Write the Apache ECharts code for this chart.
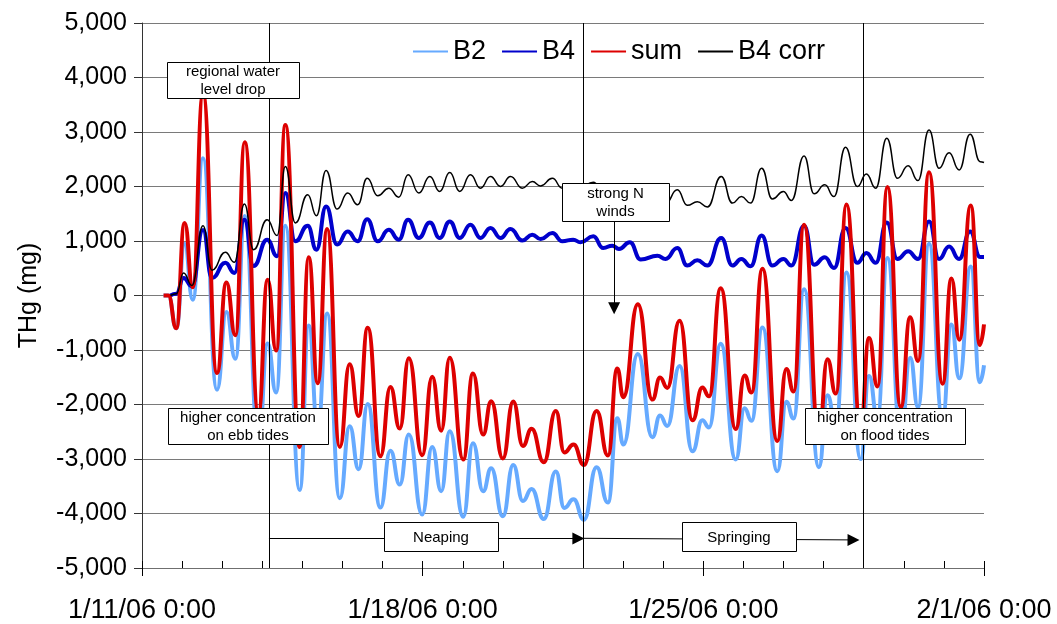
<!DOCTYPE html>
<html>
<head>
<meta charset="utf-8">
<script src="https://cdn.jsdelivr.net/npm/echarts@6/dist/echarts.min.js"></script>
<style>
  html, body { margin: 0; padding: 0; background: #fff; }
  #chart { width: 1057px; height: 624px; }
</style>
</head>
<body>
<div id="chart"></div>
<script>
// times are hours after 1/11/06 0:00 at each tide peak / trough
const tSum = [12.9, 15.8, 20.5, 25.5, 30.4, 36.5, 44.9, 50.5, 55.9, 61.5, 69.7, 75.2, 80.3, 85.8, 94.4, 99.8,
  105.2, 110.8, 118.4, 124.3, 129.7, 135.1, 142.7, 148.7, 154.3, 159.7, 167.7, 173.7, 179.1, 184.2, 192.3,
  198.1, 204.2, 209.0, 216.0, 222.2, 228.0, 233.2, 240.5, 247.7, 252.8, 258.3, 264.5, 272.1, 278.9, 284.5,
  288.1, 296.8, 305.5, 310.1, 314.4, 321.8, 329.5, 335.4, 339.4, 346.4, 355.4, 360.7, 364.8, 371.4, 380.3,
  385.7, 390.0, 396.3, 405.2, 410.3, 415.3, 421.7, 430.2, 435.2, 440.2, 446.2, 454.2, 459.8, 464.5, 471.1,
  479.2, 484.5, 489.2, 496.1, 501.5, 504];
const sumVals = [0, 0, -600, 1330, 150, 3700, -1420, 240, -730, 2810, -2150, 290, -1010, 3130, -2780, 700,
  -1610, 1220, -2780, -1260, -2210, -590, -2950, -1680, -2440, -1150, -2930, -1490, -2480, -1140, -3010,
  -1430, -2550, -1940, -2990, -1945, -2760, -2445, -3060, -2120, -2880, -2735, -3110, -2120, -2935, -1340,
  -1865, -160, -1910, -1505, -1695, -465, -2290, -1690, -1850, 135, -2450, -1470, -1780, 490, -2670,
  -1350, -1760, 1300, -2550, -1170, -1800, 1670, -2400, -780, -1670, 1990, -2050, -400, -1200, 2260,
  -1620, 310, -810, 1650, -910, -530];
const b2Vals = [0, 0, -600, 950, -80, 2520, -1730, -305, -1160, 1460, -2700, -880, -1780, 1280, -3570, -550,
  -2440, -330, -3720, -2400, -3190, -1990, -3890, -2850, -3470, -2550, -4020, -2780, -3590, -2490, -4060,
  -2710, -3590, -3170, -4050, -3110, -3770, -3550, -4100, -3230, -3900, -3740, -4115, -3150, -3800, -2250,
  -2735, -1075, -2600, -2200, -2395, -1295, -2860, -2290, -2420, -885, -3010, -2070, -2300, -585, -3225,
  -1950, -2255, 115, -3150, -1830, -2400, 420, -3000, -1475, -2250, 690, -2600, -1140, -2050, 950,
  -2250, -530, -1520, 530, -1590, -1280];

const tB4 = [17.0, 20.5, 24.9, 29.9, 36.5, 41.9, 49.9, 55.3, 61.3, 66.8, 74.9, 80.9, 85.8, 91.8, 99.2, 104.4,
  110.2, 116.8, 123.1, 129.1, 134.8, 141.1, 147.7, 153.7, 159.3, 165.7, 172.3, 178.2, 184.2, 190.2, 196.6,
  202.6, 208.6, 214.6, 220.6, 227.6, 233.6, 238.6, 245.6, 251.6, 258.1, 262.5, 270.1, 276.1, 281.5, 285.5,
  292.0, 298.5, 308.5, 313.4, 320.4, 326.4, 332.4, 338.4, 346.7, 353.4, 358.8, 364.3, 370.9, 377.3, 383.9,
  388.7, 396.3, 402.3, 408.7, 414.2, 421.1, 428.2, 433.6, 439.2, 445.8, 452.2, 458.6, 464.5, 471.1, 477.1,
  483.1, 489.1, 495.7, 501.7, 504];
const b4Vals = [0, 30, 320, 170, 1200, 320, 600, 415, 1390, 540, 1025, 720, 1880, 995, 1280, 840,
  1635, 935, 1175, 995, 1400, 995, 1205, 1025, 1390, 1055, 1340, 1055, 1360, 1055, 1300,
  1055, 1240, 1055, 1220, 1010, 1115, 1035, 1145, 995, 1025, 975, 1085, 870, 915, 855,
  975, 660, 730, 670, 870, 550, 645, 550, 1055, 550, 670, 535, 1100, 550, 670,
  550, 1280, 565, 700, 505, 1240, 600, 780, 600, 1340, 670, 810, 670, 1360, 670,
  900, 670, 1175, 705, 705];
const b4CorrVals = [0, 30, 415, 185, 1280, 465, 795, 610, 1680, 840, 1390, 1100, 2365, 1330, 1850, 1465,
  2295, 1585, 1880, 1665, 2150, 1830, 1970, 1805, 2215, 1880, 2185, 1910, 2255, 1910, 2215,
  1970, 2185, 2000, 2185, 1970, 2090, 2010, 2150, 1970, 2040, 1990, 2080, 1900, 1945, 1880,
  1990, 1700, 1760, 1690, 1940, 1655, 1720, 1625, 2185, 1695, 1815, 1695, 2335, 1770, 1910,
  1745, 2560, 1865, 2030, 1815, 2720, 2000, 2230, 1970, 2885, 2150, 2380, 2110, 3035, 2335,
  2620, 2305, 2960, 2455, 2440];

const xLabels = ['1/11/06 0:00', '1/18/06 0:00', '1/25/06 0:00', '2/1/06 0:00'];
const seriesNames = ['B2', 'B4', 'sum', 'B4 corr'];
const eventHours = [76, 264, 432];   // vertical marker lines

// annotation boxes (pixel layout)
const notes = [
  { text: 'regional water\nlevel drop', x: 167, y: 62, w: 132, h: 36 },
  { text: 'higher concentration\non ebb tides', x: 168, y: 408, w: 160, h: 36 },
  { text: 'higher concentration\non flood tides', x: 805, y: 408, w: 160, h: 36 },
  { text: 'strong N\nwinds', x: 562, y: 183, w: 107, h: 38 },
  { text: 'Neaping', x: 384, y: 522, w: 114, h: 29 },
  { text: 'Springing', x: 682, y: 522, w: 114, h: 29 }
];

const FONT = '"Liberation Sans", Arial, sans-serif';

function pairs(t, v) {
  return t.map((x, i) => [x, v[i]]);
}
function thousands(v) {
  const s = Math.abs(v).toString().replace(/\B(?=(\d{3})+(?!\d))/g, ',');
  return (v < 0 ? '-' : '') + s;
}

function lineSeries(name, t, v, color, width, z) {
  return {
    name: name, type: 'line', data: pairs(t, v),
    smooth: 0.5, smoothMonotone: 'x', symbol: 'none',
    lineStyle: { color: color, width: width },
    itemStyle: { color: color },
    z: z, silent: true
  };
}

const chart = echarts.init(document.getElementById('chart'), null, { renderer: 'canvas' });

const graphicEls = [];
notes.forEach(n => {
  graphicEls.push({
    type: 'rect', z: 100,
    shape: { x: n.x + 0.5, y: n.y + 0.5, width: n.w, height: n.h },
    style: { fill: '#fff', stroke: '#000', lineWidth: 1 }
  });
  graphicEls.push({
    type: 'text', z: 101,
    x: n.x + n.w / 2, y: n.y + n.h / 2 + 1,
    style: { text: n.text, font: '15px ' + FONT, fill: '#000', align: 'center', verticalAlign: 'middle', lineHeight: 18 }
  });
});

const sB2 = lineSeries('B2', tSum, b2Vals, '#66aaff', 4, 2);
const sB4 = lineSeries('B4', tB4, b4Vals, '#0000cc', 4, 3);
const sSum = lineSeries('sum', tSum, sumVals, '#dd0000', 4, 4);
const sCorr = lineSeries('B4 corr', tB4, b4CorrVals, '#000000', 1.5, 5);

sCorr.markLine = {
  silent: true, symbol: ['none', 'none'], animation: false,
  label: { show: false },
  lineStyle: { color: '#000', width: 1, type: 'solid' },
  data: eventHours.map(h => ({ xAxis: h }))
};
sSum.markLine = {
  silent: true, symbol: ['none', 'triangle'], symbolSize: 12, animation: false,
  label: { show: false },
  lineStyle: { color: '#000', width: 1, type: 'solid' },
  itemStyle: { color: '#000' },
  data: [
    [{ coord: [76, -4460] }, { coord: [261.2, -4460] }],
    [{ coord: [264, -4455] }, { coord: [425.9, -4485] }],
    [{ coord: [282.6, 1374] }, { coord: [282.6, -232] }]
  ]
};

chart.setOption({
  animation: false,
  backgroundColor: '#fff',
  textStyle: { fontFamily: FONT },
  grid: { left: 142, right: 73, top: 23, bottom: 55 },
  legend: {
    data: seriesNames, left: 412, top: 38, padding: 0,
    itemWidth: 35, itemHeight: 14, itemGap: 15,
    itemStyle: { opacity: 0 },
    textStyle: { fontSize: 27, color: '#000', fontFamily: FONT },
    selectedMode: false
  },
  xAxis: [{
    type: 'value', min: 0, max: 504, interval: 168, position: 'bottom',
    axisLine: { show: true, onZero: false, lineStyle: { color: '#6f6f6f', width: 1 } },
    axisTick: { show: true, inside: false, length: 8, lineStyle: { color: '#000' } },
    axisLabel: { fontSize: 27, color: '#000', margin: 29, formatter: v => xLabels[Math.round(v / 168)] },
    splitLine: { show: false }
  }, {
    type: 'value', min: 0, max: 504, interval: 24, position: 'bottom',
    axisLine: { show: false, onZero: false },
    axisTick: { show: true, inside: true, length: 7, lineStyle: { color: '#000' } },
    axisLabel: { show: false },
    splitLine: { show: false }
  }],
  yAxis: {
    type: 'value', min: -5000, max: 5000, interval: 1000,
    name: 'THg (mg)', nameLocation: 'middle', nameGap: 100, nameRotate: 90,
    nameTextStyle: { fontSize: 25, color: '#000', fontFamily: FONT },
    axisLine: { show: true, lineStyle: { color: '#333', width: 1 } },
    axisTick: { show: true, inside: false, length: 8, lineStyle: { color: '#333' } },
    axisLabel: { fontSize: 25, color: '#000', margin: 15, formatter: thousands },
    splitLine: { show: true, lineStyle: { color: '#7a7a7a', width: 1 } }
  },
  series: [sB2, sB4, sSum, sCorr],
  graphic: { elements: graphicEls }
});
</script>
</body>
</html>
